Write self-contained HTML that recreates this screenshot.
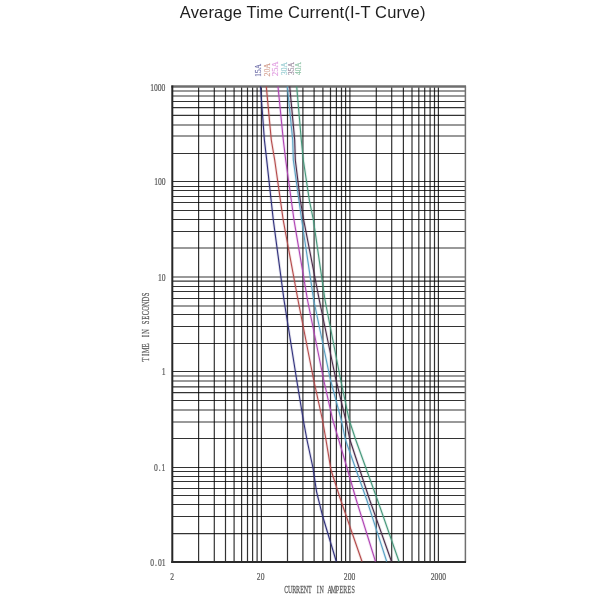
<!DOCTYPE html>
<html><head><meta charset="utf-8"><style>
html,body{margin:0;padding:0;background:#fff;width:600px;height:600px;overflow:hidden}
svg{position:absolute;left:0;top:0;filter:blur(0.35px)}
.title{font-family:"Liberation Sans",sans-serif;font-size:16.5px;letter-spacing:0.17px;fill:#1e1e1e}
.ax{font-family:"Liberation Serif",serif;font-size:10.5px;fill:#555}
.lab{font-family:"Liberation Serif",serif;font-size:8.5px;stroke-width:0.15px}
.mt{font-family:"Liberation Serif",serif;stroke:#606060;stroke-width:0.25px}
</style></head><body>
<svg width="600" height="600" viewBox="0 0 600 600">
<text x="179.8" y="17.8" class="title">Average Time Current(I-T Curve)</text>
<g stroke="#000" stroke-opacity="0.8" stroke-width="1.2" fill="none">
<line x1="198.60" y1="86.30" x2="198.60" y2="562.00"/>
<line x1="214.30" y1="86.30" x2="214.30" y2="562.00"/>
<line x1="225.50" y1="86.30" x2="225.50" y2="562.00"/>
<line x1="234.10" y1="86.30" x2="234.10" y2="562.00"/>
<line x1="241.60" y1="86.30" x2="241.60" y2="562.00"/>
<line x1="247.50" y1="86.30" x2="247.50" y2="562.00"/>
<line x1="252.60" y1="86.30" x2="252.60" y2="562.00"/>
<line x1="257.10" y1="86.30" x2="257.10" y2="562.00"/>
<line x1="261.40" y1="86.30" x2="261.40" y2="562.00"/>
<line x1="287.50" y1="86.30" x2="287.50" y2="562.00"/>
<line x1="302.90" y1="86.30" x2="302.90" y2="562.00"/>
<line x1="314.10" y1="86.30" x2="314.10" y2="562.00"/>
<line x1="322.90" y1="86.30" x2="322.90" y2="562.00"/>
<line x1="330.50" y1="86.30" x2="330.50" y2="562.00"/>
<line x1="336.40" y1="86.30" x2="336.40" y2="562.00"/>
<line x1="341.50" y1="86.30" x2="341.50" y2="562.00"/>
<line x1="345.60" y1="86.30" x2="345.60" y2="562.00"/>
<line x1="349.90" y1="86.30" x2="349.90" y2="562.00"/>
<line x1="376.30" y1="86.30" x2="376.30" y2="562.00"/>
<line x1="391.70" y1="86.30" x2="391.70" y2="562.00"/>
<line x1="403.40" y1="86.30" x2="403.40" y2="562.00"/>
<line x1="412.00" y1="86.30" x2="412.00" y2="562.00"/>
<line x1="418.80" y1="86.30" x2="418.80" y2="562.00"/>
<line x1="424.70" y1="86.30" x2="424.70" y2="562.00"/>
<line x1="430.10" y1="86.30" x2="430.10" y2="562.00"/>
<line x1="434.50" y1="86.30" x2="434.50" y2="562.00"/>
<line x1="438.40" y1="86.30" x2="438.40" y2="562.00"/>
<line x1="172.30" y1="91.00" x2="465.30" y2="91.00"/>
<line x1="172.30" y1="96.00" x2="465.30" y2="96.00"/>
<line x1="172.30" y1="101.50" x2="465.30" y2="101.50"/>
<line x1="172.30" y1="107.70" x2="465.30" y2="107.70"/>
<line x1="172.30" y1="115.40" x2="465.30" y2="115.40"/>
<line x1="172.30" y1="125.00" x2="465.30" y2="125.00"/>
<line x1="172.30" y1="136.00" x2="465.30" y2="136.00"/>
<line x1="172.30" y1="153.50" x2="465.30" y2="153.50"/>
<line x1="172.30" y1="181.50" x2="465.30" y2="181.50"/>
<line x1="172.30" y1="186.50" x2="465.30" y2="186.50"/>
<line x1="172.30" y1="190.50" x2="465.30" y2="190.50"/>
<line x1="172.30" y1="196.50" x2="465.30" y2="196.50"/>
<line x1="172.30" y1="202.50" x2="465.30" y2="202.50"/>
<line x1="172.30" y1="210.50" x2="465.30" y2="210.50"/>
<line x1="172.30" y1="219.50" x2="465.30" y2="219.50"/>
<line x1="172.30" y1="231.50" x2="465.30" y2="231.50"/>
<line x1="172.30" y1="248.00" x2="465.30" y2="248.00"/>
<line x1="172.30" y1="277.00" x2="465.30" y2="277.00"/>
<line x1="172.30" y1="281.20" x2="465.30" y2="281.20"/>
<line x1="172.30" y1="286.50" x2="465.30" y2="286.50"/>
<line x1="172.30" y1="291.50" x2="465.30" y2="291.50"/>
<line x1="172.30" y1="298.50" x2="465.30" y2="298.50"/>
<line x1="172.30" y1="306.00" x2="465.30" y2="306.00"/>
<line x1="172.30" y1="314.50" x2="465.30" y2="314.50"/>
<line x1="172.30" y1="326.50" x2="465.30" y2="326.50"/>
<line x1="172.30" y1="343.50" x2="465.30" y2="343.50"/>
<line x1="172.30" y1="371.50" x2="465.30" y2="371.50"/>
<line x1="172.30" y1="376.00" x2="465.30" y2="376.00"/>
<line x1="172.30" y1="381.00" x2="465.30" y2="381.00"/>
<line x1="172.30" y1="386.80" x2="465.30" y2="386.80"/>
<line x1="172.30" y1="392.60" x2="465.30" y2="392.60"/>
<line x1="172.30" y1="400.50" x2="465.30" y2="400.50"/>
<line x1="172.30" y1="410.00" x2="465.30" y2="410.00"/>
<line x1="172.30" y1="422.00" x2="465.30" y2="422.00"/>
<line x1="172.30" y1="438.50" x2="465.30" y2="438.50"/>
<line x1="172.30" y1="467.50" x2="465.30" y2="467.50"/>
<line x1="172.30" y1="471.50" x2="465.30" y2="471.50"/>
<line x1="172.30" y1="476.50" x2="465.30" y2="476.50"/>
<line x1="172.30" y1="481.50" x2="465.30" y2="481.50"/>
<line x1="172.30" y1="488.50" x2="465.30" y2="488.50"/>
<line x1="172.30" y1="495.50" x2="465.30" y2="495.50"/>
<line x1="172.30" y1="504.50" x2="465.30" y2="504.50"/>
<line x1="172.30" y1="516.50" x2="465.30" y2="516.50"/>
<line x1="172.30" y1="533.70" x2="465.30" y2="533.70"/>
</g>
<line x1="171.30" y1="86.5" x2="466.05" y2="86.5" stroke="#6e6e6e" stroke-width="2.4"/>
<line x1="465.4" y1="86.5" x2="465.4" y2="562.00" stroke="#707070" stroke-width="1.5"/>
<line x1="172.30" y1="85.5" x2="172.30" y2="563.00" stroke="#262626" stroke-width="2"/>
<line x1="171.30" y1="562.00" x2="466.05" y2="562.00" stroke="#2a2a2a" stroke-width="1.9"/>
<g fill="none" stroke-width="1.1">
<path d="M260.5,86.5 L264.4,140.0 L266.7,160.0 L273.3,220.0 L284.0,300.0 L296.7,380.0 L303.3,420.0 L307.0,440.0 L313.0,468.0 L316.6,492.0 L322.6,516.0 L336.3,561.5" stroke="#30307c" stroke-width="2.8" stroke-opacity="0.16"/><path d="M260.5,86.5 L264.4,140.0 L266.7,160.0 L273.3,220.0 L284.0,300.0 L296.7,380.0 L303.3,420.0 L307.0,440.0 L313.0,468.0 L316.6,492.0 L322.6,516.0 L336.3,561.5" stroke="#30307c"/>
<path d="M266.3,86.5 L271.3,140.0 L274.7,160.0 L283.2,220.0 L298.0,300.0 L313.7,380.0 L322.5,420.0 L326.0,440.0 L331.0,470.0 L340.7,500.0 L362.0,561.5" stroke="#b44a4a" stroke-width="2.8" stroke-opacity="0.16"/><path d="M266.3,86.5 L271.3,140.0 L274.7,160.0 L283.2,220.0 L298.0,300.0 L313.7,380.0 L322.5,420.0 L326.0,440.0 L331.0,470.0 L340.7,500.0 L362.0,561.5" stroke="#b44a4a"/>
<path d="M278.0,86.5 L283.3,140.0 L285.7,160.0 L294.0,220.0 L307.5,300.0 L323.7,380.0 L332.8,420.0 L338.8,440.0 L347.6,470.0 L356.3,500.0 L375.5,561.5" stroke="#b044b4" stroke-width="2.8" stroke-opacity="0.16"/><path d="M278.0,86.5 L283.3,140.0 L285.7,160.0 L294.0,220.0 L307.5,300.0 L323.7,380.0 L332.8,420.0 L338.8,440.0 L347.6,470.0 L356.3,500.0 L375.5,561.5" stroke="#b044b4"/>
<path d="M287.3,86.5 L292.7,140.0 L293.3,160.0 L301.7,220.0 L313.7,300.0 L330.5,380.0 L341.3,420.0 L345.5,440.0 L366.8,500.0 L386.7,561.5" stroke="#58a0c4" stroke-width="2.8" stroke-opacity="0.16"/><path d="M287.3,86.5 L292.7,140.0 L293.3,160.0 L301.7,220.0 L313.7,300.0 L330.5,380.0 L341.3,420.0 L345.5,440.0 L366.8,500.0 L386.7,561.5" stroke="#58a0c4"/>
<path d="M289.7,86.5 L294.7,140.0 L295.3,160.0 L300.3,200.0 L303.7,220.0 L319.3,300.0 L336.0,380.0 L345.8,420.0 L350.0,440.0 L369.7,500.0 L391.5,561.5" stroke="#4a2a48" stroke-width="2.8" stroke-opacity="0.16"/><path d="M289.7,86.5 L294.7,140.0 L295.3,160.0 L300.3,200.0 L303.7,220.0 L319.3,300.0 L336.0,380.0 L345.8,420.0 L350.0,440.0 L369.7,500.0 L391.5,561.5" stroke="#4a2a48"/>
<path d="M296.7,86.5 L301.3,140.0 L303.3,160.0 L309.3,200.0 L313.4,220.0 L325.0,300.0 L340.7,380.0 L349.2,420.0 L355.8,440.0 L377.5,500.0 L399.0,561.5" stroke="#46987a" stroke-width="2.8" stroke-opacity="0.16"/><path d="M296.7,86.5 L301.3,140.0 L303.3,160.0 L309.3,200.0 L313.4,220.0 L325.0,300.0 L340.7,380.0 L349.2,420.0 L355.8,440.0 L377.5,500.0 L399.0,561.5" stroke="#46987a"/>
</g>
<text transform="translate(261,76.8) rotate(-90)" fill="#6a6aa6" stroke="#6a6aa6" class="lab" textLength="12.8" lengthAdjust="spacingAndGlyphs">15A</text>
<text transform="translate(270,76.5) rotate(-90)" fill="#d4a090" stroke="#d4a090" class="lab" textLength="13.5" lengthAdjust="spacingAndGlyphs">20A</text>
<text transform="translate(278.3,76) rotate(-90)" fill="#e09ce0" stroke="#e09ce0" class="lab" textLength="14.5" lengthAdjust="spacingAndGlyphs">25A</text>
<text transform="translate(287.3,75) rotate(-90)" fill="#98ccd2" stroke="#98ccd2" class="lab" textLength="13.0" lengthAdjust="spacingAndGlyphs">30A</text>
<text transform="translate(294,75) rotate(-90)" fill="#9a889e" stroke="#9a889e" class="lab" textLength="13.0" lengthAdjust="spacingAndGlyphs">35A</text>
<text transform="translate(300.8,75) rotate(-90)" fill="#90c4a8" stroke="#90c4a8" class="lab" textLength="13.0" lengthAdjust="spacingAndGlyphs">40A</text>
<text transform="translate(0,91.3) scale(0.74,1)" x="205.54 210.68 215.81 220.95" y="0" text-anchor="middle" font-size="10.3" fill="#5c5c5c" class="mt">1000</text>
<text transform="translate(0,185.2) scale(0.74,1)" x="210.95 216.08 221.22" y="0" text-anchor="middle" font-size="10.3" fill="#5c5c5c" class="mt">100</text>
<text transform="translate(0,280.8) scale(0.74,1)" x="216.08 221.22" y="0" text-anchor="middle" font-size="10.3" fill="#5c5c5c" class="mt">10</text>
<text transform="translate(0,375.3) scale(0.74,1)" x="221.22" y="0" text-anchor="middle" font-size="10.3" fill="#5c5c5c" class="mt">1</text>
<text transform="translate(0,470.5) scale(0.74,1)" x="210.68 215.81 220.95" y="0" text-anchor="middle" font-size="10.3" fill="#5c5c5c" class="mt">0.1</text>
<text transform="translate(0,566.1) scale(0.74,1)" x="205.68 210.81 215.95 221.08" y="0" text-anchor="middle" font-size="10.3" fill="#5c5c5c" class="mt">0.01</text>
<text transform="translate(0,579.8) scale(0.74,1)" x="232.70" y="0" text-anchor="middle" font-size="10.3" fill="#5c5c5c" class="mt">2</text>
<text transform="translate(0,579.8) scale(0.74,1)" x="349.70 354.90" y="0" text-anchor="middle" font-size="10.3" fill="#5c5c5c" class="mt">20</text>
<text transform="translate(0,579.8) scale(0.74,1)" x="467.23 472.43 477.64" y="0" text-anchor="middle" font-size="10.3" fill="#5c5c5c" class="mt">200</text>
<text transform="translate(0,579.8) scale(0.74,1)" x="584.63 589.83 595.03 600.24" y="0" text-anchor="middle" font-size="10.3" fill="#5c5c5c" class="mt">2000</text>
<text transform="translate(149.3,361.8) rotate(-90) scale(0.66,1)" x="3.52 10.56 17.60 24.64 31.68 38.72 45.76 52.80 59.84 66.88 73.92 80.96 88.01 95.05 102.09" y="0" text-anchor="middle" font-size="10.1" fill="#5c5c5c" class="mt">TIME IN SECONDS</text>
<text transform="translate(0,593.3) scale(0.58,1)" x="493.57 500.36 507.15 513.94 520.73 527.52 534.32 541.11 547.90 554.69 561.48 568.27 575.06 581.85 588.64 595.44 602.23 609.02" y="0" text-anchor="middle" font-size="10.4" fill="#5c5c5c" class="mt">CURRENT IN AMPERES</text>
</svg>
</body></html>
